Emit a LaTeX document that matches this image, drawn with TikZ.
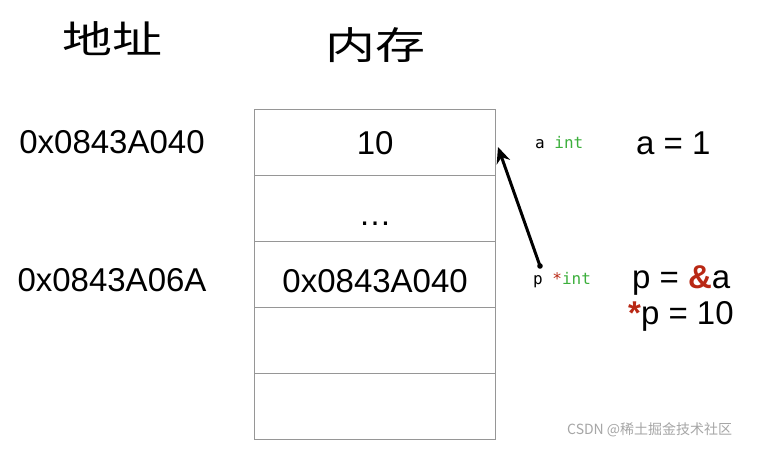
\documentclass[tikz,border=0pt]{standalone}
\usepackage{fontspec}
\setmainfont{Liberation Sans}
\newfontfamily\cjk{Noto Sans CJK SC}
\newfontfamily\mono{DejaVu Sans Mono}
\usetikzlibrary{arrows.meta}
\definecolor{cellgray}{RGB}{150,150,150}
\definecolor{kwgreen}{RGB}{60,175,60}
\definecolor{ptrred}{RGB}{185,40,20}
\tikzset{
  cell/.style={draw=cellgray, line width=1.3pt, minimum width=241pt, minimum height=66pt, inner sep=0pt, anchor=north west, font=\fontsize{33}{33}\selectfont},
  big/.style={font=\fontsize{33}{33}\selectfont, inner sep=0pt},
  head/.style={font=\cjk\fontsize{40}{40}\selectfont, inner sep=0pt},
  small/.style={font=\mono\fontsize{16}{16}\selectfont, inner sep=0pt, anchor=west},
}
\begin{document}
\begin{tikzpicture}[x=1pt,y=-1pt]
\useasboundingbox[fill=white] (0,0) rectangle (774,451);
\node[head] (h1) at (112,39) {\scalebox{1.25}[0.95]{地址}};
\node[head] (h2) at (375,45) {\scalebox{1.25}[0.95]{内存}};
\node[cell] (c1) at (254,109) {10};
\node[cell] (c2) at (254,175) {\raisebox{-17pt}[0pt][0pt]{\dots}};
\node[cell] (c3) at (254,241) {\raisebox{-18pt}[0pt][0pt]{0x0843A040}};
\node[cell] (c4) at (254,307) {};
\node[cell] (c5) at (254,373) {};
\node[big] (ad1) at (112,142) {0x0843A040};
\node[big] (ad2) at (112,280) {0x0843A06A};
\node[small] (ta) at (535,143) {a \textcolor{kwgreen}{int}};
\node[small] (tp) at (533,280) {p \textcolor{ptrred}{*}\textcolor{kwgreen}{int}};
\node[big, anchor=west] (e1) at (636,143) {a = 1};
\node[big, anchor=west] (e2) at (632,280) {p = \textcolor{ptrred}{\textbf{\&}}a};
\node[big, anchor=west] (e3) at (628,316) {\textcolor{ptrred}{\textbf{*}}p = 10};
\coordinate (ptail) at (540,266);
\coordinate (ahead) at (498,147);
\draw[line width=3pt, line cap=round, -{Stealth[length=16pt,width=14pt]}] (ptail) -- (ahead);
\fill (ptail) circle (2.8pt);
\node[font=\cjk\fontsize{14}{14}\selectfont, text=black!35, inner sep=0pt, anchor=west] (wm) at (567,430) {CSDN @稀土掘金技术社区};
\end{tikzpicture}
\end{document}
